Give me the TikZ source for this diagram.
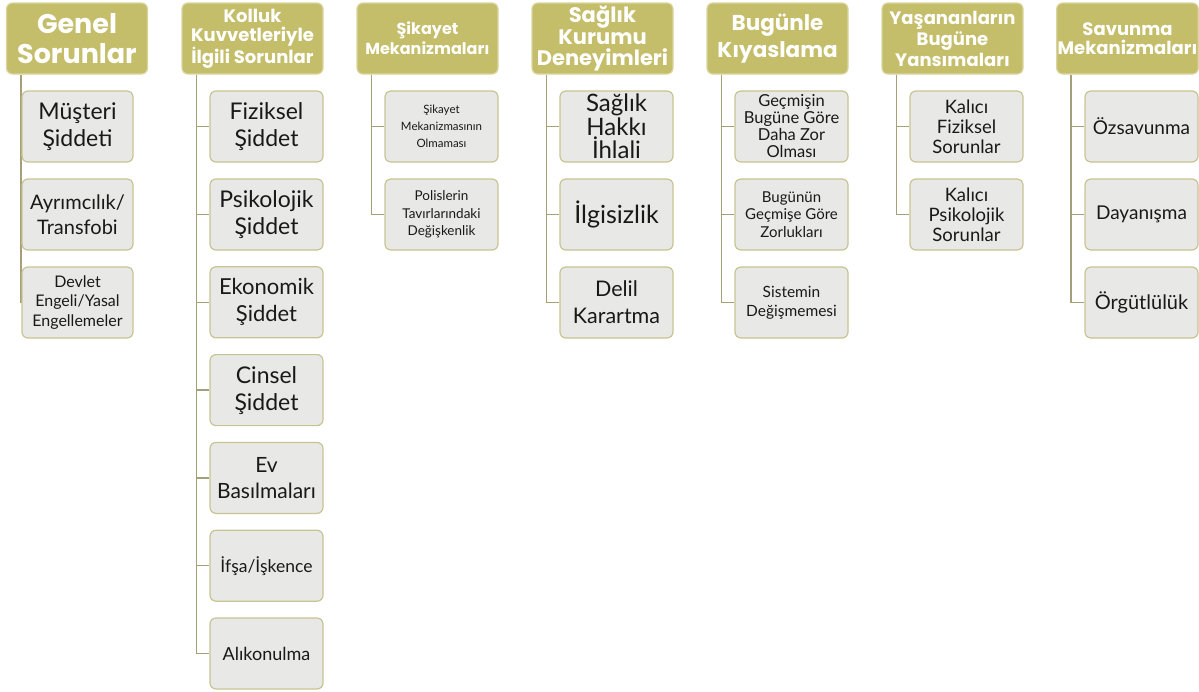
\documentclass[tikz,border=0pt]{standalone}
\usepackage{fontspec}
\setmainfont{Lato}
\newfontfamily\hdrfont{Poppins}
\usetikzlibrary{backgrounds}
\definecolor{hdrfill}{HTML}{C4BD6A}
\definecolor{hdredge}{HTML}{DAD5A0}
\definecolor{itemfill}{HTML}{E8E8E6}
\definecolor{itemedge}{HTML}{C8C491}
\definecolor{trunkline}{HTML}{A6A07A}
\newcommand\setfs[2]{\fontsize{#1}{#2}\selectfont}

\begin{document}
\begin{tikzpicture}[x=1pt, y=-1pt,
    hdr/.style={draw=hdredge, line width=1.2pt, fill=hdrfill, rounded corners=6pt,
        minimum width=141pt, minimum height=71pt, inner sep=1pt, align=center,
        text=white},
    item/.style={draw=itemedge, line width=1.2pt, fill=itemfill, rounded corners=6pt,
        minimum width=113pt, minimum height=71pt, inner sep=1pt, align=center,
        text=black!90},
    trunk/.style={draw=trunkline, line width=1.5pt}]
    \useasboundingbox (0,0) rectangle (1199,691);

    % Genel Sorunlar
    \node[hdr, font=\hdrfont\bfseries\setfs{27}{30}] (genel) at (77,38.5) {Genel\\Sorunlar};
    \node[item, minimum width=111pt, font=\setfs{23}{27}] (musteri) at (77.5,126.5) {Müşteri\\Şiddeti};
    \node[item, minimum width=111pt, font=\setfs{20}{25}] (ayrim) at (77.5,214.5) {Ayrımcılık/\\Transfobi};
    \node[item, minimum width=111pt, font=\setfs{16}{19.5}] (devlet) at (77.5,302.5) {Devlet\\Engeli/Yasal\\Engellemeler};

    % Kolluk kuvvetleri
    \node[hdr, font=\hdrfont\bfseries\setfs{18}{19}] (kolluk) at (252.5,38.5) {Kolluk\\Kuvvetleriyle\\İlgili Sorunlar};
    \node[item, font=\setfs{23}{27}] (fiziksel) at (266.5,126.5) {Fiziksel\\Şiddet};
    \node[item, font=\setfs{23}{27}] (psiko) at (266.5,214.5) {Psikolojik\\Şiddet};
    \node[item, font=\setfs{22}{27}] (ekonomik) at (266.5,302.3) {Ekonomik\\Şiddet};
    \node[item, font=\setfs{23}{27}] (cinsel) at (266.5,390.1) {Cinsel\\Şiddet};
    \node[item, font=\setfs{21}{26}] (basilma) at (266.5,477.9) {Ev\\Basılmaları};
    \node[item, font=\setfs{17.5}{20}] (ifsa) at (266.5,565.7) {İfşa/İşkence};
    \node[item, font=\setfs{18}{20}] (alikonma) at (266.5,653.5) {Alıkonulma};

    % Sikayet mekanizmalari
    \node[hdr, font=\hdrfont\bfseries\setfs{16}{20}] (sikayet) at (427.5,38.5) {Şikayet\\Mekanizmaları};
    \node[item, font=\setfs{11.5}{17}] (olmama) at (441.5,126.5) {Şikayet\\Mekanizmasının\\Olmaması};
    \node[item, font=\setfs{13.5}{17.5}] (polis) at (441.5,214.5) {Polislerin\\Tavırlarındaki\\Değişkenlik};

    % Saglik kurumu
    \node[hdr, font=\hdrfont\bfseries\setfs{21}{21.5}] (saglik) at (602.5,38.5) {Sağlık\\Kurumu\\Deneyimleri};
    \node[item, font=\setfs{24}{23.5}] (hakki) at (616.5,126.5) {Sağlık\\Hakkı\\İhlali};
    \node[item, font=\setfs{25}{26}] (ilgisiz) at (616.5,214.5) {İlgisizlik};
    \node[item, font=\setfs{21.5}{27}] (delil) at (616.5,302.5) {Delil\\Karartma};

    % Bugunle kiyaslama
    \node[hdr, font=\hdrfont\bfseries\setfs{21.5}{27}] (kiyas) at (777.5,38.5) {Bugünle\\Kıyaslama};
    \node[item, font=\setfs{16.5}{17}] (gecmis) at (791.5,126.5) {Geçmişin\\Bugüne Göre\\Daha Zor\\Olması};
    \node[item, font=\setfs{15}{17.5}] (bugun) at (791.5,214.5) {Bugünün\\Geçmişe Göre\\Zorlukları};
    \node[item, font=\setfs{15.5}{19}] (sistem) at (791.5,302.5) {Sistemin\\Değişmemesi};

    % Yasananlarin yansimalari
    \node[hdr, font=\hdrfont\bfseries\setfs{18}{21}] (yansima) at (952.5,38.5) {Yaşananların\\Bugüne\\Yansımaları};
    \node[item, font=\setfs{18.5}{20}] (kfiz) at (966.5,126.5) {Kalıcı\\Fiziksel\\Sorunlar};
    \node[item, font=\setfs{18.5}{20}] (kpsi) at (966.5,214.5) {Kalıcı\\Psikolojik\\Sorunlar};

    % Savunma mekanizmalari
    \node[hdr, font=\hdrfont\bfseries\setfs{18}{18.5}] (savunma) at (1127.5,38.5) {Savunma\\Mekanizmaları};
    \node[item, font=\setfs{19}{20}] (ozsav) at (1141.5,126.5) {Özsavunma};
    \node[item, font=\setfs{19}{20}] (dayan) at (1141.5,214.5) {Dayanışma};
    \node[item, font=\setfs{20}{20}] (orgut) at (1141.5,302.5) {Örgütlülük};

    % Connectors
    \begin{scope}[on background layer]
        \draw[trunk] ([xshift=15pt]genel.south west) |- (devlet.west);
        \draw[trunk] ([xshift=15pt]kolluk.south west) |- (alikonma.west);
        \foreach \n in {fiziksel,psiko,ekonomik,cinsel,basilma,ifsa}
            \draw[trunk] ([xshift=15pt]kolluk.south west) |- (\n.west);
        \draw[trunk] ([xshift=15pt]sikayet.south west) |- (polis.west);
        \draw[trunk] ([xshift=15pt]sikayet.south west) |- (olmama.west);
        \draw[trunk] ([xshift=15pt]saglik.south west) |- (delil.west);
        \draw[trunk] ([xshift=15pt]saglik.south west) |- (hakki.west);
        \draw[trunk] ([xshift=15pt]saglik.south west) |- (ilgisiz.west);
        \draw[trunk] ([xshift=15pt]kiyas.south west) |- (sistem.west);
        \draw[trunk] ([xshift=15pt]kiyas.south west) |- (gecmis.west);
        \draw[trunk] ([xshift=15pt]kiyas.south west) |- (bugun.west);
        \draw[trunk] ([xshift=15pt]yansima.south west) |- (kpsi.west);
        \draw[trunk] ([xshift=15pt]yansima.south west) |- (kfiz.west);
        \draw[trunk] ([xshift=15pt]savunma.south west) |- (orgut.west);
        \draw[trunk] ([xshift=15pt]savunma.south west) |- (ozsav.west);
        \draw[trunk] ([xshift=15pt]savunma.south west) |- (dayan.west);
    \end{scope}
\end{tikzpicture}
\end{document}
